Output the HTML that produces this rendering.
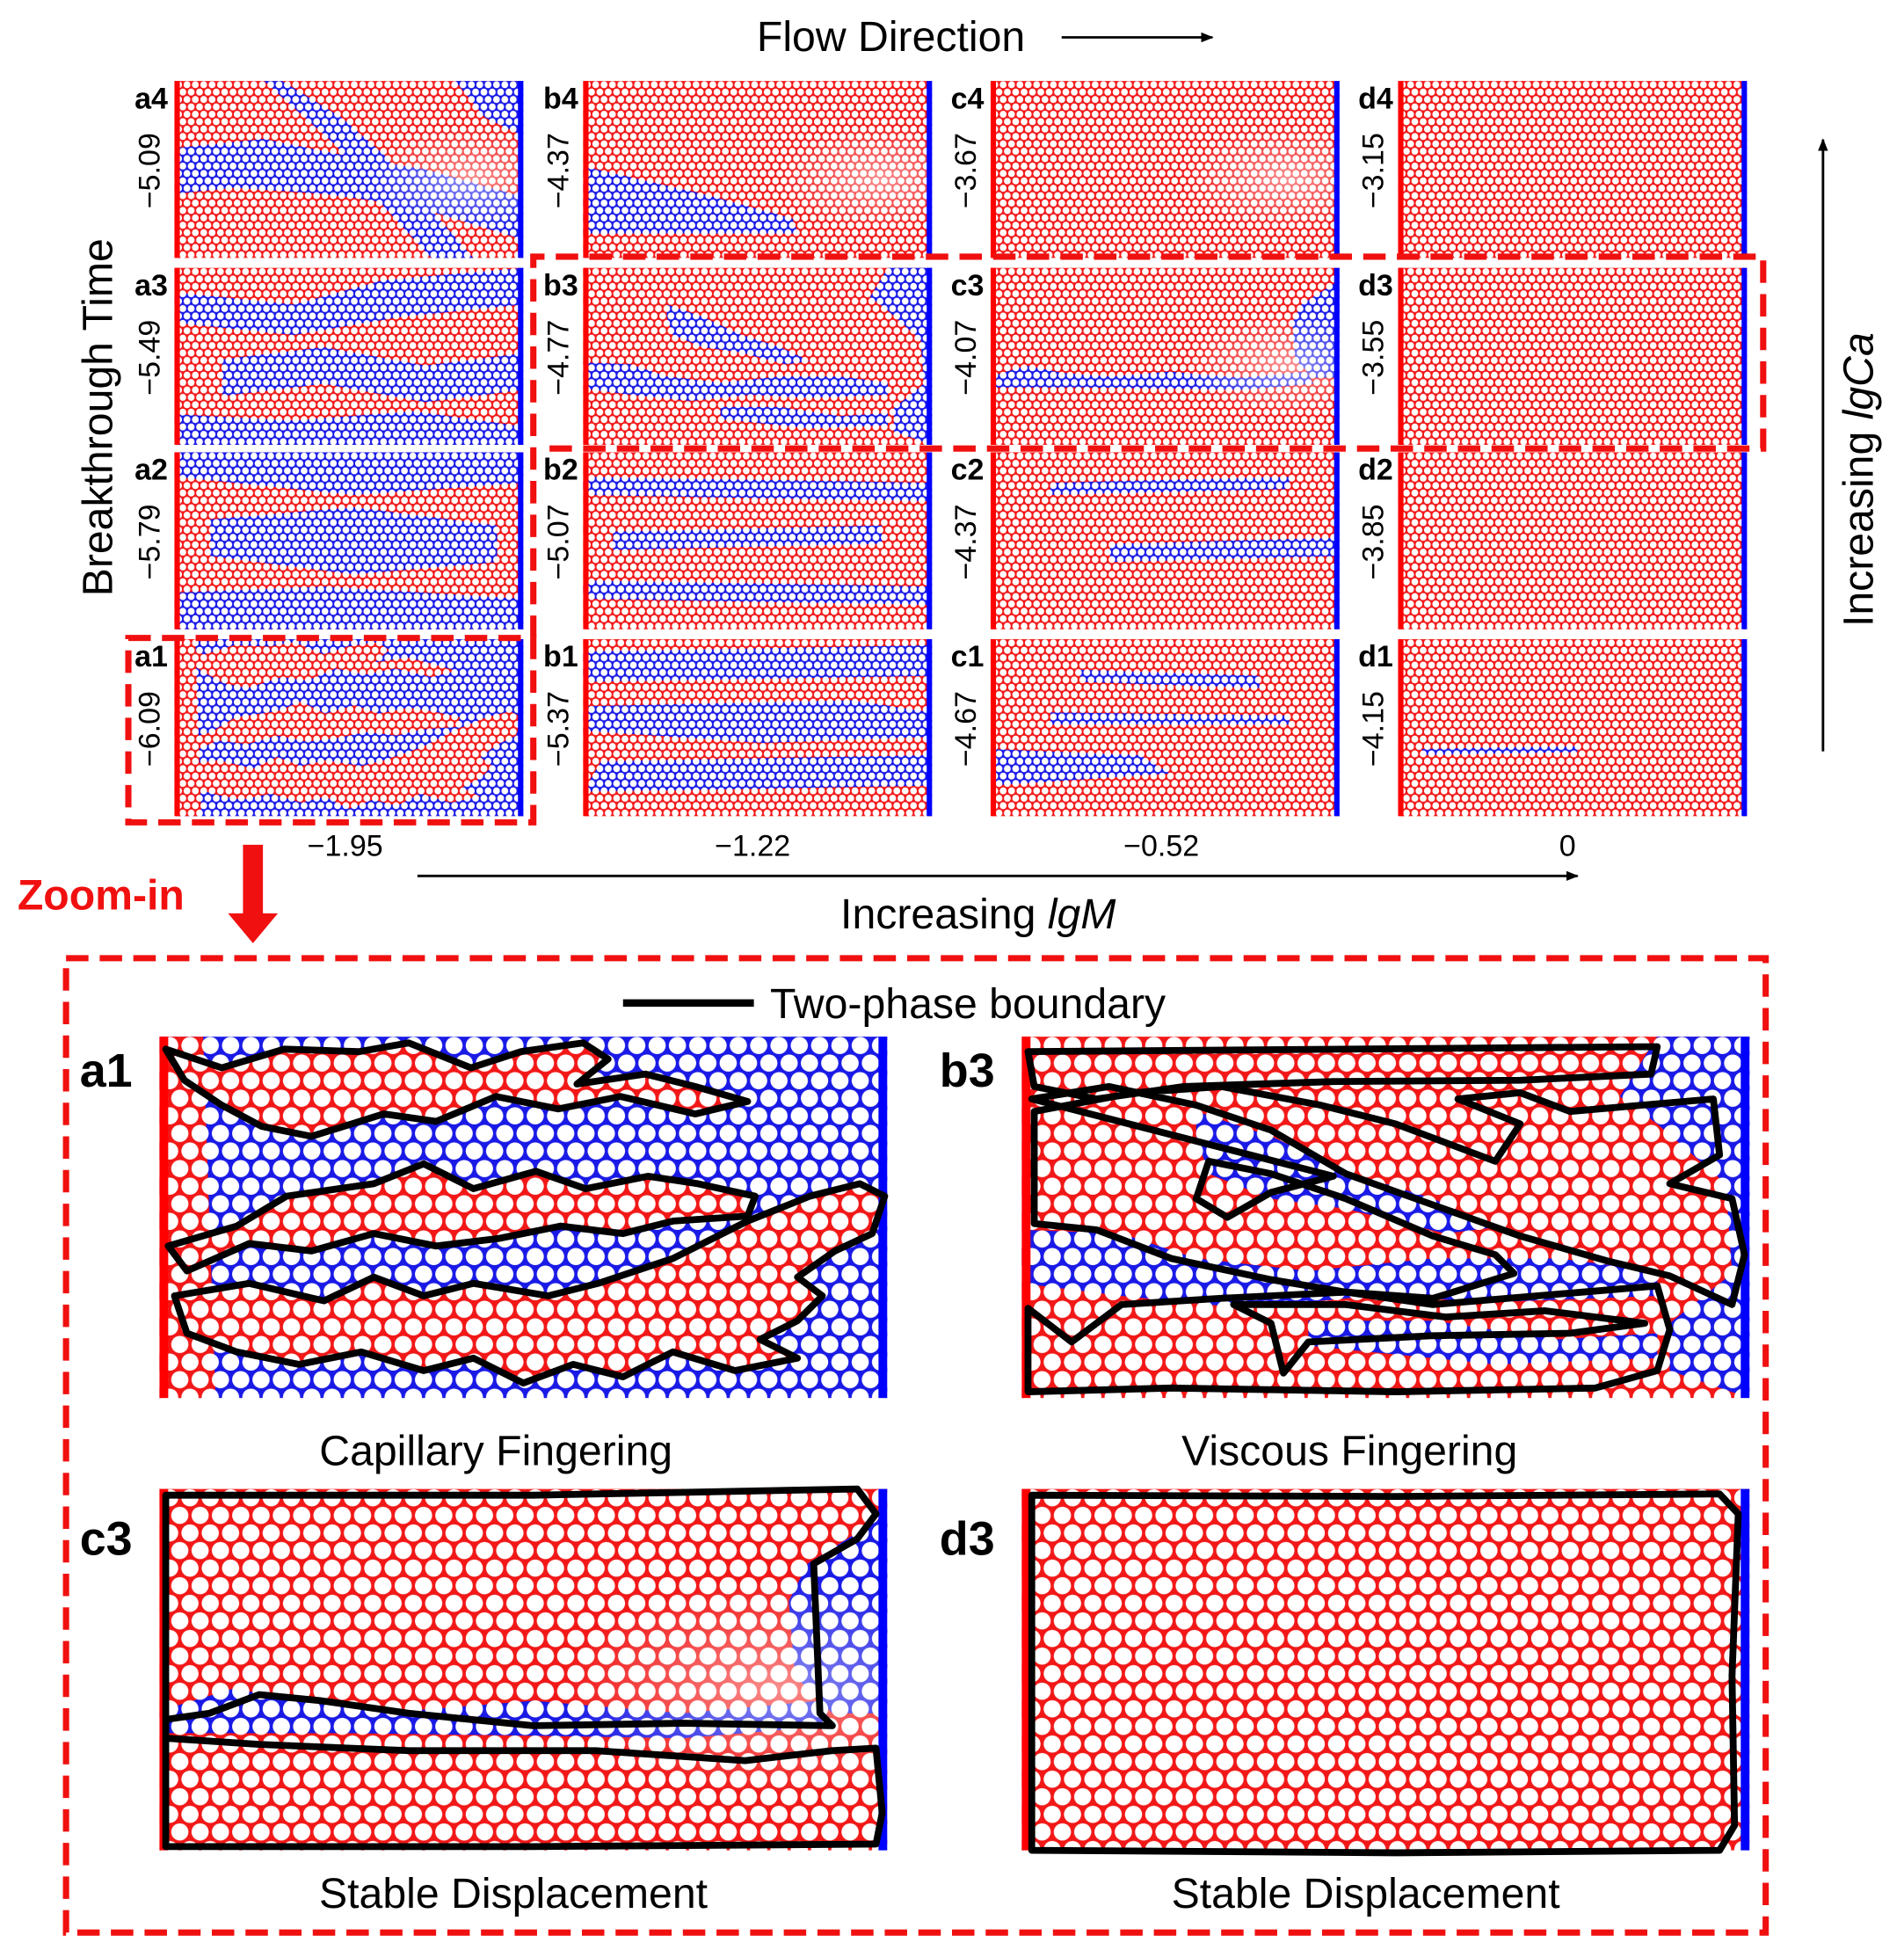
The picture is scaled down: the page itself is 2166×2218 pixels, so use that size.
<!DOCTYPE html>
<html><head><meta charset="utf-8">
<style>
html,body{margin:0;padding:0;background:#fff;}
svg{display:block;}
text{font-family:"Liberation Sans",sans-serif;}
</style></head>
<body>
<svg id="fig" width="2166" height="2218" viewBox="0 0 1528 1565" preserveAspectRatio="none" xmlns="http://www.w3.org/2000/svg">
<defs>
  <pattern id="redS" patternUnits="userSpaceOnUse" width="14" height="24.25"><rect width="14" height="24.25" fill="#f21818"/><circle cx="7" cy="6.06" r="5.7" fill="#fff"/><circle cx="0" cy="18.19" r="5.7" fill="#fff"/><circle cx="14" cy="18.19" r="5.7" fill="#fff"/></pattern>
  <pattern id="blueS" patternUnits="userSpaceOnUse" width="14" height="24.25"><rect width="14" height="24.25" fill="#1a1ae6"/><circle cx="7" cy="6.06" r="5.7" fill="#fff"/><circle cx="0" cy="18.19" r="5.7" fill="#fff"/><circle cx="14" cy="18.19" r="5.7" fill="#fff"/></pattern>
  <pattern id="redB" patternUnits="userSpaceOnUse" width="16.3" height="28.23"><rect width="16.3" height="28.23" fill="#f21818"/><circle cx="8.15" cy="7.06" r="6.9" fill="#fff"/><circle cx="0" cy="21.17" r="6.9" fill="#fff"/><circle cx="16.3" cy="21.17" r="6.9" fill="#fff"/></pattern>
  <pattern id="blueB" patternUnits="userSpaceOnUse" width="16.3" height="28.23"><rect width="16.3" height="28.23" fill="#1a1ae6"/><circle cx="8.15" cy="7.06" r="6.9" fill="#fff"/><circle cx="0" cy="21.17" r="6.9" fill="#fff"/><circle cx="16.3" cy="21.17" r="6.9" fill="#fff"/></pattern>
  <radialGradient id="haze" cx="0.85" cy="0.55" r="0.3"><stop offset="0" stop-color="#fff" stop-opacity="0.5"/><stop offset="1" stop-color="#fff" stop-opacity="0"/></radialGradient>
  <marker id="ah" markerWidth="10" markerHeight="8" refX="9" refY="4" orient="auto" markerUnits="userSpaceOnUse"><path d="M0,0 L10,4 L0,8 Z" fill="#000"/></marker>
</defs>

<g id="panels"></g>
<g id="bigpanels"></g>

<text x="715" y="41" font-size="34" text-anchor="middle">Flow Direction</text>
<line x1="852" y1="30" x2="973" y2="30" stroke="#000" stroke-width="2" marker-end="url(#ah)"/>
<text transform="translate(90,335) rotate(-90)" font-size="34" text-anchor="middle">Breakthrough Time</text>
<line x1="1463" y1="603" x2="1463" y2="112" stroke="#000" stroke-width="2" marker-end="url(#ah)"/>
<text transform="translate(1503,385) rotate(-90)" font-size="34" text-anchor="middle">Increasing <tspan font-style="italic">lgCa</tspan></text>
<line x1="335" y1="703" x2="1266" y2="703" stroke="#000" stroke-width="2" marker-end="url(#ah)"/>
<text x="785" y="745" font-size="34" text-anchor="middle">Increasing <tspan font-style="italic">lgM</tspan></text>
<g font-size="24" text-anchor="middle">
  <text x="277" y="687">−1.95</text>
  <text x="604" y="687">−1.22</text>
  <text x="932" y="687">−0.52</text>
  <text x="1258" y="687">0</text>
</g>

<g fill="none" stroke="#f01010" stroke-width="5" stroke-dasharray="18,9">
  <path d="M103,512 L428,512 L428,660 L103,660 Z"/>
  <path d="M428,512 L428,206 L1415,206 L1415,360 L440,360"/>
  <rect x="53" y="769" width="1364" height="782"/>
</g>
<text x="14" y="730" font-size="34" font-weight="bold" fill="#f01010">Zoom-in</text>
<path d="M195,678 L211,678 L211,733 L223,733 L203,757 L183,733 L195,733 Z" fill="#f01010"/>

<line x1="500" y1="805" x2="605" y2="805" stroke="#000" stroke-width="6"/>
<text x="618" y="817" font-size="34">Two-phase boundary</text>

<g font-size="34" text-anchor="middle">
  <text x="398" y="1176">Capillary Fingering</text>
  <text x="1083" y="1176">Viscous Fingering</text>
  <text x="412" y="1531">Stable Displacement</text>
  <text x="1096" y="1531">Stable Displacement</text>
</g>
<g font-size="38" font-weight="bold">
  <text x="64" y="872">a1</text>
  <text x="754" y="872">b3</text>
  <text x="64" y="1248">c3</text>
  <text x="754" y="1248">d3</text>
</g>

<script>
const NS = "http://www.w3.org/2000/svg";
const colX = [140, 468, 795, 1122];
const rowY = [513, 363, 215, 65];
const colNames = ["a","b","c","d"];
const lgCa = [["−6.09","−5.79","−5.49","−5.09"],["−5.37","−5.07","−4.77","−4.37"],["−4.67","−4.37","−4.07","−3.67"],["−4.15","−3.85","−3.55","−3.15"]];

const A1 = [[[0,0],[584,0],[584,290],[0,290]]];
const A1red = [
 [[5,10],[50,25],[100,10],[160,12],[200,5],[250,25],[290,12],[340,5],[360,18],[335,38],[390,30],[430,40],[472,52],[430,62],[370,48],[320,58],[270,48],[222,68],[180,62],[122,80],[82,72],[50,55],[20,35]],
 [[7,168],[62,152],[102,128],[172,118],[212,102],[252,122],[302,108],[342,122],[392,112],[432,118],[478,128],[472,144],[412,148],[372,158],[322,152],[272,162],[222,168],[172,158],[122,172],[72,166],[22,188]],
 [[12,208],[72,198],[132,212],[172,193],[212,208],[252,198],[312,208],[352,198],[412,178],[472,148],[522,128],[562,118],[582,128],[572,158],[542,172],[512,193],[532,208],[512,228],[482,243],[512,258],[462,268],[412,253],[372,273],[332,263],[292,278],[252,258],[212,268],[162,253],[112,263],[62,253],[22,238]],
 [[0,0],[35,0],[45,290],[0,290]]
];
const B3blue = [
 [[510,0],[584,0],[584,290],[520,268],[520,230],[570,190],[565,118],[510,70],[480,48]],
 [[0,155],[80,158],[140,178],[230,188],[330,178],[430,178],[510,188],[510,208],[380,213],[280,208],[180,218],[80,208],[0,198]],
 [[140,60],[200,80],[260,108],[330,130],[380,153],[340,158],[260,138],[200,130],[150,110],[140,80]],
 [[230,228],[330,228],[430,243],[510,238],[510,258],[380,263],[280,253],[230,248]]
];
const C3blue = [[[0,178],[60,160],[120,172],[200,178],[300,170],[420,180],[530,170],[540,190],[420,200],[300,198],[150,196],[0,196]],[[520,60],[584,20],[584,180],[540,180],[510,150],[505,90]]];
const SMALL = {
 a4:[[[0,110],[150,95],[300,125],[420,145],[584,190],[584,260],[400,205],[250,185],[100,175],[0,185]],[[180,0],[280,60],[350,120],[420,200],[500,290],[430,290],[350,205],[270,105],[150,0]],[[470,0],[584,0],[584,90],[520,60]]],
 a3:[[[0,40],[200,60],[350,20],[584,0],[584,60],[380,80],[200,110],[0,90]],[[80,150],[250,130],[420,160],[584,140],[584,200],[420,220],[250,190],[80,210]],[[0,240],[200,250],[400,235],[584,260],[584,290],[0,290]]],
 a2:[[[0,0],[584,0],[584,50],[300,70],[0,40]],[[60,110],[300,90],[540,120],[540,180],[300,200],[60,170]],[[0,230],[250,220],[584,240],[584,290],[0,290]]],
 a1:A1,
 b4:[[[0,140],[200,185],[350,225],[360,250],[0,250]]],
 b3:B3blue,
 b2:[[[0,40],[584,50],[584,80],[0,70]],[[50,130],[500,120],[500,150],[50,160]],[[0,210],[584,220],[584,250],[0,240]]],
 b1:[[[0,20],[584,10],[584,60],[0,70]],[[0,110],[450,100],[584,120],[584,160],[300,170],[0,150]],[[30,200],[584,190],[584,240],[0,250]]],
 c4:[],
 c3:C3blue,
 c2:[[[100,50],[500,40],[500,60],[100,70]],[[200,150],[584,140],[584,170],[200,180]]],
 c1:[[[0,180],[250,190],[300,220],[0,240]],[[150,50],[450,60],[450,80],[150,70]],[[100,120],[500,125],[500,140],[100,140]]],
 d4:[],d3:[],d2:[],
 d1:[[[40,180],[300,175],[300,185],[40,190]]]
};
const hazy = {b4:1,c4:1,c3:1,a4:1};

function el(tag, attrs, parent){const e=document.createElementNS(NS,tag);for(const k in attrs)e.setAttribute(k,attrs[k]);parent.appendChild(e);return e;}
function pts(p){return p.map(q=>q.join(",")).join(" ");}

function panel(parent, x, y, sx, sy, big, base, blues, reds, name){
  const g = el("g",{transform:`translate(${x},${y}) scale(${sx},${sy})`},parent);
  
  
  const R = big ? "url(#redB)" : "url(#redS)", B = big ? "url(#blueB)" : "url(#blueS)";
  el("rect",{x:0,y:0,width:584,height:290,fill:base==="blue"?B:R},g);
  blues.forEach(p=>el("polygon",{points:pts(p),fill:B},g));
  reds.forEach(p=>el("polygon",{points:pts(p),fill:R},g));
  if(hazy[name.replace(/panel-|-big/g,"")]) el("rect",{x:0,y:0,width:584,height:290,fill:"url(#haze)"},g);
  el("rect",{x:0,y:0,width:big?7:9,height:290,fill:"#f00"},g);
  el("rect",{x:584-(big?7:9),y:0,width:big?7:9,height:290,fill:"#00f"},g);
  return g;
}

const P = document.getElementById("panels");
for(let c=0;c<4;c++){
  for(let r=0;r<4;r++){
    const key = colNames[c]+(r+1);
    const isA1 = key==="a1";
    panel(P, colX[c], rowY[r], 280/584, 142/290, false, isA1?"blue":"red", isA1?[]:SMALL[key], isA1?A1red:[], "panel-"+key);
    const t = el("text",{x:colX[c]-32,y:rowY[r]+22,"font-size":24,"font-weight":"bold"},P);
    t.textContent = key;
    
    
    const v = el("text",{transform:`translate(${colX[c]-12},${rowY[r]+72}) rotate(-90)`,"font-size":24,"text-anchor":"middle"},P);
    v.textContent = lgCa[c][r];
    
    
  }
}

const BP = document.getElementById("bigpanels");
panel(BP,128,832,1,1,true,"blue",[],A1red,"panel-a1-big");
panel(BP,820,832,1,1,true,"red",B3blue,[],"panel-b3-big");
panel(BP,128,1195,1,1,true,"red",C3blue,[],"panel-c3-big");
panel(BP,820,1195,1,1,true,"red",[],[],"panel-d3-big");

function outline(ox, oy, poly, name){
  const p = el("polygon",{points:poly.map(q=>(q[0]+ox)+","+(q[1]+oy)).join(" "),fill:"none",stroke:"#000","stroke-width":5.5,"stroke-linejoin":"round"},BP);
  
  
}
A1red.slice(0,3).forEach((p,i)=>outline(128,832,p,'boundary-a1-'+i));
outline(820,832,[[5,12],[510,8],[505,30],[400,35],[250,36],[130,40],[60,50],[10,40]],'boundary-b3-0');
outline(820,832,[[8,50],[70,40],[140,55],[200,75],[260,110],[330,135],[400,160],[470,180],[520,192],[570,215],[580,175],[570,130],[520,118],[560,95],[555,50],[440,60],[400,45],[350,50],[400,70],[380,100],[300,70],[240,55],[160,40],[90,45],[10,60],[10,150],[60,155],[120,178],[200,195],[260,205],[330,210],[395,190],[380,175],[330,160],[260,130],[200,110],[150,100],[140,130],[165,145],[200,125],[250,112]],'boundary-b3-1');
outline(820,832,[[5,218],[40,245],[80,215],[160,210],[260,205],[330,215],[450,205],[510,200],[520,235],[510,268],[460,282],[300,285],[120,282],[5,285]],'boundary-b3-2');
outline(820,832,[[170,215],[260,215],[340,225],[420,220],[500,230],[440,238],[330,240],[230,245],[210,270],[200,230]],'boundary-b3-3');
outline(128,1195,[[5,5],[300,5],[560,0],[575,20],[560,40],[525,60],[530,180],[540,190],[420,188],[300,190],[200,180],[130,170],[80,165],[40,180],[5,185],[5,200],[80,205],[200,210],[350,210],[470,218],[540,210],[575,208],[580,260],[575,285],[300,287],[5,287]],'boundary-c3');
outline(820,1195,[[8,5],[300,6],[560,4],[575,20],[570,150],[572,270],[560,290],[300,292],[8,290]],'boundary-d3');
</script>
</svg>
</body></html>
